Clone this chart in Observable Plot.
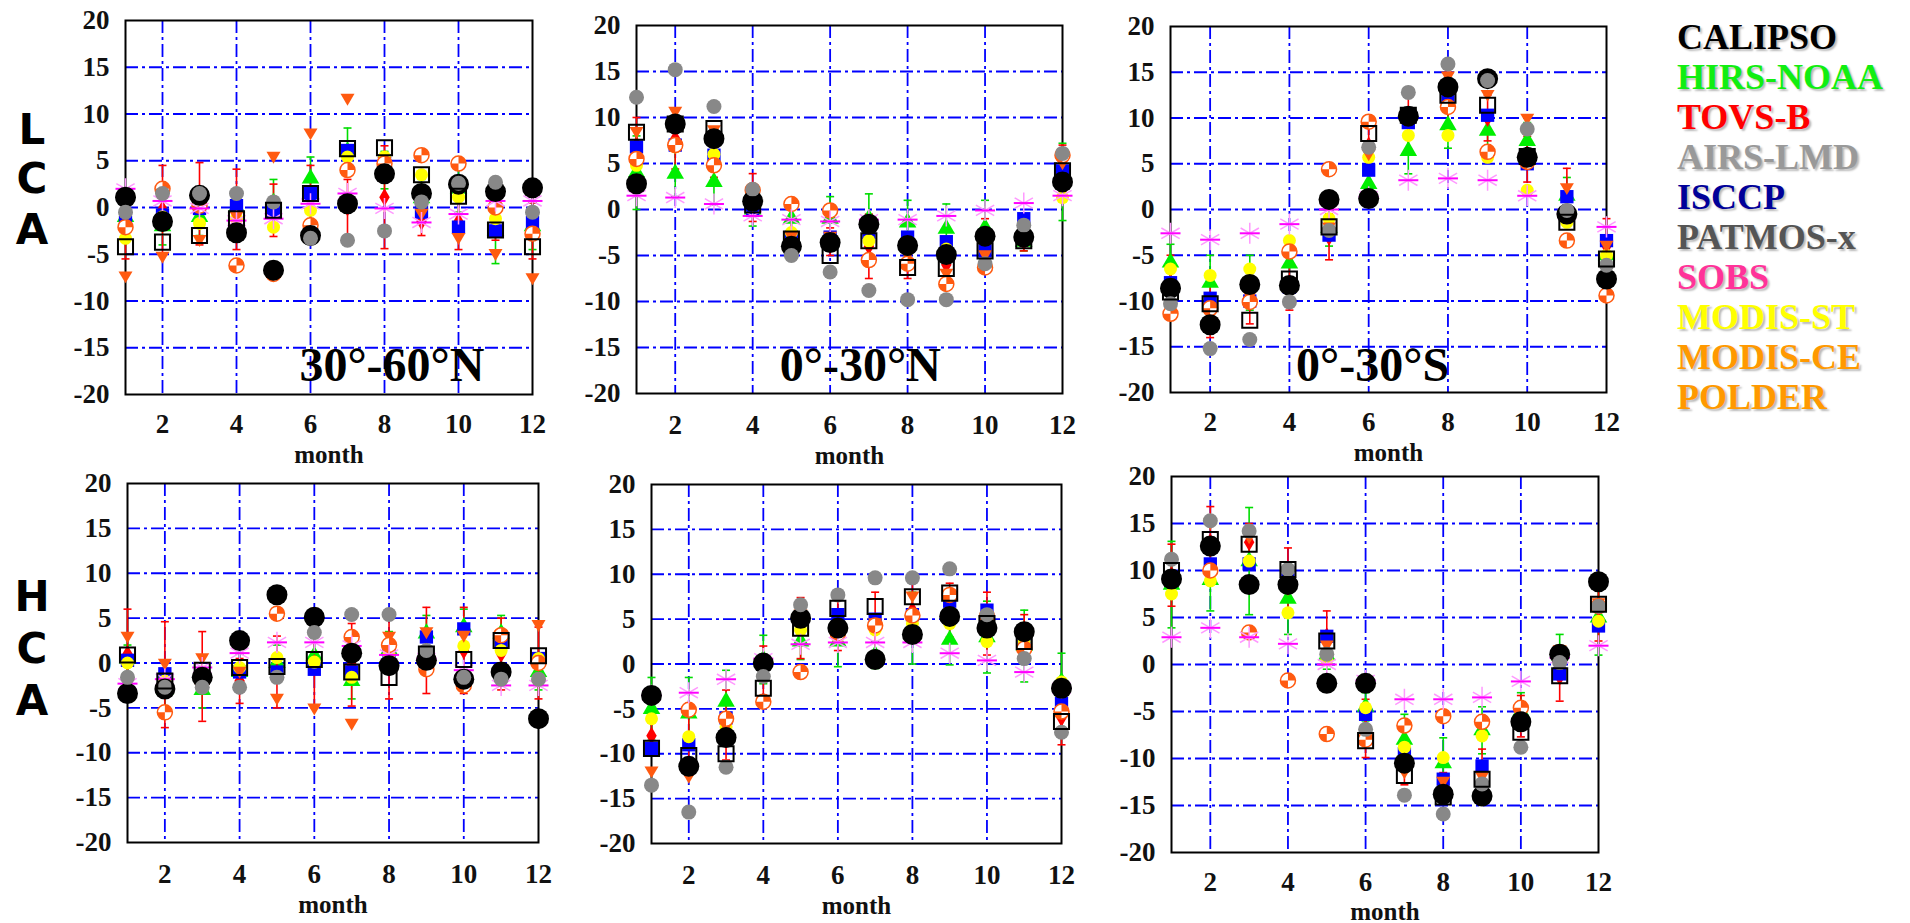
<!DOCTYPE html>
<html><head><meta charset="utf-8">
<script src="https://cdn.jsdelivr.net/npm/d3@7"></script>
<script src="https://cdn.jsdelivr.net/npm/@observablehq/plot@0.6"></script>
<style>
body{margin:0;background:#fff;}
#root{position:relative;width:1910px;height:923px;overflow:hidden;background:#fff;}
.panel{position:absolute;}
.panel svg{overflow:visible;}
.rowlab{position:absolute;left:10px;width:44px;text-align:center;font-family:"DejaVu Sans",sans-serif;font-weight:bold;font-size:42px;line-height:49px;height:49px;color:#000;}
.legend{position:absolute;left:1677px;top:17px;font-family:"Liberation Serif","Times New Roman",serif;font-weight:bold;font-size:36px;line-height:40px;}
.legend div{white-space:nowrap;text-shadow:2px 2px 2px rgba(0,0,0,0.28);}
</style></head>
<body><div id="root"></div>
<script>
// ---------- categories / labels ----------
const months = [1,2,3,4,5,6,7,8,9,10,11,12];
const seriesNames = ["CALIPSO","HIRS-NOAA","TOVS-B","AIRS-LMD","ISCCP","PATMOS-x","SOBS","MODIS-ST","MODIS-CE","POLDER"];
const seriesColors = ["#000000","#11ee11","#ff0000","#999999","#000099","#555555","#ff3399","#ffff00","#ff9900","#ff9900"];
const panelTitles = ["30°-60°N","0°-30°N","0°-30°S","","",""];
const rowLabelLCA = ["L","C","A"];
const rowLabelHCA = ["H","C","A"];
const xTickValues = [2,4,6,8,10,12];
const yTickValues = [-20,-15,-10,-5,0,5,10,15,20];
const xGridValues = [2,4,6,8,10];
const yGridValues = [-15,-10,-5,0,5,10,15];

// ---------- LCA 30°-60°N ----------
const lca3060N_calipso = [1.1,-1.5,1.3,-2.7,-6.7,-3.0,0.4,3.6,1.5,2.5,1.7,2.1];
const lca3060N_airs    = [-0.5,1.5,1.5,1.5,0.6,-3.3,-3.5,-2.5,0.6,2.6,2.7,-0.5];
const lca3060N_patmos  = [-4.2,-3.7,-3.0,-1.2,-0.3,1.5,6.3,6.4,3.5,1.2,-2.4,-4.2];
const lca3060N_isccp   = [-1.6,-0.8,-0.1,0.2,-0.3,1.5,6.1,5.0,-0.5,-2.1,-2.5,-1.6];
const lca3060N_modisSt = [-3.3,-1.0,-1.7,-1.2,-2.1,-0.3,5.4,5.4,3.5,1.1,-1.2,-2.8];
const lca3060N_modisCe = [-7.4,-5.3,-3.5,-1.0,5.4,7.9,11.6,4.8,-0.7,-3.3,-5.0,-7.6];
const lca3060N_polder  = [-2.1,2.0,0.2,-6.2,-7.1,-1.9,4.0,4.7,5.6,4.7,0.0,-2.8];
const lca3060N_sobs    = [2.0,0.7,-0.1,-1.4,-1.2,0.4,1.5,-0.1,-1.6,-0.7,0.7,0.7];
const lca3060N_hirs    = [-1.0,-2.0,-1.0,0.0,0.5,3.1,6.0,4.0,1.0,2.0,-2.5,-2.0];
const lca3060N_hirsErr = [2,2,2,2,2.5,2.3,2.5,2,2,2.5,3.5,2.5];
const lca3060N_tovs    = [-2.5,-0.2,0.4,-0.2,-0.3,1.5,0.0,1.1,-1.5,-1.5,-0.5,-2.5];
const lca3060N_tovsErr = [3,4.7,4.4,4.3,2.8,3.0,3.0,5.5,1.5,3,3,3];

// ---------- LCA 0°-30°N ----------
const lca030N_calipso = [2.8,9.3,7.7,0.9,-4.0,-3.6,-1.6,-3.9,-4.9,-2.9,-3.0,3.0];
const lca030N_airs    = [12.2,15.2,11.2,2.2,-5.0,-6.8,-8.8,-9.8,-9.8,-5.9,-1.7,6.1];
const lca030N_patmos  = [8.4,9.3,8.8,0.5,-3.2,-5.0,-3.4,-6.3,-6.4,-4.5,-3.4,4.2];
const lca030N_isccp   = [6.8,7.0,5.9,-0.1,-3.0,-3.0,-2.5,-3.0,-3.5,-4.5,-1.0,4.2];
const lca030N_modisSt = [4.8,6.8,6.0,1.0,-2.5,-3.5,-3.4,-4.0,-4.3,-3.0,-3.0,1.3];
const lca030N_modisCe = [8.4,10.6,8.6,1.0,-3.0,-3.0,-2.0,-5.0,-7.0,-5.0,-3.0,5.0];
const lca030N_polder  = [5.5,7.0,4.8,2.1,0.6,-0.1,-5.5,-5.9,-8.1,-6.3,-3.2,5.9];
const lca030N_sobs    = [1.5,1.3,0.6,-0.7,-1.1,-1.3,-1.1,-1.1,-0.7,-0.1,0.7,1.5];
const lca030N_hirs    = [4.0,3.9,3.0,0.0,-1.0,-1.0,-1.0,-1.4,-2.1,-2.0,-3.5,3.0];
const lca030N_hirsErr = [4,2.5,2.5,1.8,2,2.4,2.7,2.4,2.7,3,1,4.2];
const lca030N_tovs    = [7.0,7.7,6.2,1.3,-3.0,-3.5,-4.0,-5.5,-6.0,-3.0,-3.5,4.5];
const lca030N_tovsErr = [3,3.3,2.7,2.6,2,1.5,3.5,2,2,2,1,2.5];

// ---------- LCA 0°-30°S ----------
const lca030S_calipso = [-8.6,-12.6,-8.2,-8.3,1.1,1.2,10.2,13.4,14.3,5.7,-0.5,-7.6];
const lca030S_airs    = [-10.3,-15.2,-14.2,-10.1,-2.3,6.8,12.8,15.9,14.1,8.8,-0.1,-6.1];
const lca030S_patmos  = [-9.0,-10.3,-12.1,-7.6,-1.9,8.3,10.3,12.5,11.4,5.8,-1.4,-5.4];
const lca030S_isccp   = [-8.0,-9.7,-10.0,-8.5,-2.8,4.3,9.5,12.0,10.3,5.0,1.4,-3.4];
const lca030S_modisSt = [-6.5,-7.2,-6.5,-3.4,-1.0,5.7,8.1,8.1,5.7,2.1,-1.4,-5.0];
const lca030S_modisCe = [-9.0,-11.0,-9.5,-8.0,-2.0,6.0,10.5,14.5,12.5,9.9,2.3,-4.0];
const lca030S_polder  = [-11.4,-10.8,-10.1,-4.6,4.4,9.6,10.0,11.2,6.3,5.2,-3.4,-9.4];
const lca030S_sobs    = [-2.6,-3.3,-2.6,-1.6,0.0,1.4,3.2,3.4,3.2,1.5,-0.5,-1.9];
const lca030S_hirs    = [-5.8,-8.0,-8.0,-5.9,-2.0,2.8,6.4,9.2,8.6,7.5,1.5,-5.0];
const lca030S_hirsErr = [2,3,3,2,2,2,2.5,2.5,2,2,2,2];
const lca030S_tovs    = [-8.0,-11.0,-10.0,-8.0,-3.0,7.0,9.5,12.0,10.0,5.5,1.5,-4.0];
const lca030S_tovsErr = [3,3,2.5,3,2.5,3,3,3,2.5,2.5,3,3];

// ---------- HCA 30°-60°N ----------
const hca3060N_calipso = [-3.4,-2.9,-1.6,2.5,7.6,5.1,1.1,-0.3,0.3,-1.8,-1.0,-6.2];
const hca3060N_airs    = [-1.6,-2.7,-2.7,-2.7,-1.6,3.4,5.4,5.4,1.4,-1.6,-1.8,-1.8];
const hca3060N_patmos  = [0.9,-2.0,-0.8,-0.5,-0.4,0.4,-1.0,-1.6,1.0,0.4,2.5,0.8];
const hca3060N_isccp   = [0.3,-1.2,-2.0,-1.0,-1.0,-0.7,-1.0,1.0,2.9,3.8,2.5,0.5];
const hca3060N_modisSt = [0.0,-2.0,-1.0,-0.5,0.6,0.1,-1.6,1.0,0.5,1.9,1.4,0.5];
const hca3060N_modisCe = [2.9,-0.1,0.5,-1.0,-4.0,-5.1,-6.8,2.9,3.4,3.0,3.0,4.2];
const hca3060N_polder  = [-3.4,-5.5,-2.0,2.5,5.5,5.3,2.9,2.0,-0.7,-2.5,3.1,0.0];
const hca3060N_sobs    = [-2.3,-1.8,-0.5,1.1,2.3,2.3,1.9,0.9,0.5,-0.8,-2.5,-2.5];
const hca3060N_hirs    = [0.5,-3.0,-3.0,-1.0,0.0,0.8,-2.0,1.5,3.3,4.0,3.3,-1.0];
const hca3060N_hirsErr = [1.5,2,2,2,2,2,2,2,2,2,2,2];
const hca3060N_tovs    = [1.0,-1.3,-1.5,-2.0,-1.0,0.0,-0.2,1.0,1.4,1.4,1.0,0.0];
const hca3060N_tovsErr = [5,5.9,5,2.5,4,5,4.6,5,4.8,4.8,4,4];

// ---------- HCA 0°-30°N ----------
const hca030N_calipso = [-3.5,-11.4,-8.2,0.1,5.1,4.0,0.5,3.3,5.3,4.0,3.6,-2.7];
const hca030N_airs    = [-13.5,-16.5,-11.5,-1.4,6.6,7.7,9.6,9.6,10.6,5.5,0.6,-7.6];
const hca030N_patmos  = [-9.4,-10.2,-10.0,-2.7,4.0,6.2,6.4,7.5,7.9,4.5,2.5,-6.4];
const hca030N_isccp   = [-9.4,-9.0,-6.0,0.0,5.0,5.5,5.0,5.5,7.0,6.0,3.0,-4.4];
const hca030N_modisSt = [-6.1,-8.1,-7.0,0.5,3.8,3.0,3.8,4.5,4.5,2.5,2.5,-2.0];
const hca030N_modisCe = [-12.0,-12.6,-7.0,0.0,5.5,4.0,4.5,7.5,7.5,5.0,3.0,-5.5];
const hca030N_polder  = [-3.5,-5.1,-6.1,-4.2,-0.9,3.4,4.3,5.4,7.7,5.3,1.7,-5.3];
const hca030N_sobs    = [-3.5,-3.2,-1.7,0.6,2.2,2.4,2.4,2.4,1.2,0.4,-0.9,-2.7];
const hca030N_hirs    = [-5.0,-5.5,-4.2,0.5,2.5,2.5,1.0,4.0,2.7,3.0,2.0,-2.0];
const hca030N_hirsErr = [3.5,4,3.5,2.7,2,2.8,1.5,4,2.8,4,4,3.2];
const hca030N_tovs    = [-8.0,-8.5,-6.8,-1.0,4.0,4.7,4.4,6.0,6.0,4.5,3.0,-6.0];
const hca030N_tovsErr = [2,4,3.9,3,3.4,3.2,3.6,3,3,3.5,2.5,3];

// ---------- HCA 0°-30°S ----------
const hca030S_calipso = [9.1,12.6,8.5,8.5,-2.0,-2.0,-10.5,-13.8,-14.0,-6.1,1.1,8.8];
const hca030S_airs    = [11.2,15.3,14.2,10.1,1.1,-6.9,-13.9,-15.9,-12.7,-8.8,0.2,6.2];
const hca030S_patmos  = [10.0,13.3,12.8,10.1,2.5,-8.1,-11.8,-14.1,-12.2,-7.2,-1.2,6.4];
const hca030S_isccp   = [9.0,10.7,10.7,9.0,3.0,-5.3,-9.5,-12.2,-10.8,-6.0,-1.0,4.1];
const hca030S_modisSt = [7.5,8.9,11.0,5.5,0.5,-4.6,-8.8,-9.9,-7.6,-5.0,1.0,4.6];
const hca030S_modisCe = [9.0,15.0,13.5,8.0,2.0,-7.5,-11.5,-12.5,-12.0,-5.0,1.5,6.5];
const hca030S_polder  = [9.1,10.0,3.4,-1.7,-7.4,-8.0,-6.5,-5.5,-6.1,-4.6,1.3,6.2];
const hca030S_sobs    = [2.9,3.9,2.9,2.2,0.0,-1.7,-3.7,-3.7,-3.5,-1.8,0.7,2.0];
const hca030S_hirs    = [8.5,9.0,11.0,7.0,1.0,-4.5,-8.0,-10.5,-7.0,-5.0,1.0,5.0];
const hca030S_hirsErr = [4.6,3.3,5.7,3.8,1.5,1.5,2.7,2.7,2.5,2,2.2,4];
const hca030S_tovs    = [9.5,13.0,13.0,9.0,3.0,-6.8,-10.8,-13.0,-11.0,-5.5,-1.3,6.0];
const hca030S_tovsErr = [3.3,3.8,2,3.4,2.7,3.1,2,1.5,2,2.2,2.6,3.5];

// ---------- assemble ----------
const panelData = [
  {calipso:lca3060N_calipso, airs:lca3060N_airs, patmos:lca3060N_patmos, isccp:lca3060N_isccp, modisSt:lca3060N_modisSt, modisCe:lca3060N_modisCe, polder:lca3060N_polder, sobs:lca3060N_sobs, hirs:lca3060N_hirs, hirsErr:lca3060N_hirsErr, tovs:lca3060N_tovs, tovsErr:lca3060N_tovsErr},
  {calipso:lca030N_calipso, airs:lca030N_airs, patmos:lca030N_patmos, isccp:lca030N_isccp, modisSt:lca030N_modisSt, modisCe:lca030N_modisCe, polder:lca030N_polder, sobs:lca030N_sobs, hirs:lca030N_hirs, hirsErr:lca030N_hirsErr, tovs:lca030N_tovs, tovsErr:lca030N_tovsErr},
  {calipso:lca030S_calipso, airs:lca030S_airs, patmos:lca030S_patmos, isccp:lca030S_isccp, modisSt:lca030S_modisSt, modisCe:lca030S_modisCe, polder:lca030S_polder, sobs:lca030S_sobs, hirs:lca030S_hirs, hirsErr:lca030S_hirsErr, tovs:lca030S_tovs, tovsErr:lca030S_tovsErr},
  {calipso:hca3060N_calipso, airs:hca3060N_airs, patmos:hca3060N_patmos, isccp:hca3060N_isccp, modisSt:hca3060N_modisSt, modisCe:hca3060N_modisCe, polder:hca3060N_polder, sobs:hca3060N_sobs, hirs:hca3060N_hirs, hirsErr:hca3060N_hirsErr, tovs:hca3060N_tovs, tovsErr:hca3060N_tovsErr},
  {calipso:hca030N_calipso, airs:hca030N_airs, patmos:hca030N_patmos, isccp:hca030N_isccp, modisSt:hca030N_modisSt, modisCe:hca030N_modisCe, polder:hca030N_polder, sobs:hca030N_sobs, hirs:hca030N_hirs, hirsErr:hca030N_hirsErr, tovs:hca030N_tovs, tovsErr:hca030N_tovsErr},
  {calipso:hca030S_calipso, airs:hca030S_airs, patmos:hca030S_patmos, isccp:hca030S_isccp, modisSt:hca030S_modisSt, modisCe:hca030S_modisCe, polder:hca030S_polder, sobs:hca030S_sobs, hirs:hca030S_hirs, hirsErr:hca030S_hirsErr, tovs:hca030S_tovs, tovsErr:hca030S_tovsErr}
];

// layout (frame edges in page pixels) – presentation only
const layout = [
  {L:125, R:532, T:20, B:394, monthDy:68, tickPad:19, titleX:8.2, titleY:-16.9},
  {L:636, R:1062, T:25, B:393, monthDy:70, tickPad:21, titleX:6.78, titleY:-17.0},
  {L:1170, R:1606, T:26, B:392, monthDy:68, tickPad:19, titleX:6.1, titleY:-17.05},
  {L:127, R:538, T:483, B:842, monthDy:70, tickPad:21, titleX:0, titleY:0},
  {L:651, R:1061, T:484, B:843, monthDy:70, tickPad:21, titleX:0, titleY:0},
  {L:1171, R:1598, T:476, B:852, monthDy:67, tickPad:19, titleX:0, titleY:0}
];

// custom symbols
const downTri = {draw(ctx, size){ const r = Math.sqrt(size/Math.PI); ctx.moveTo(-r, -r*0.75); ctx.lineTo(r, -r*0.75); ctx.lineTo(0, r*0.95); ctx.closePath(); }};
const quads = {draw(ctx, size){ const r = Math.sqrt(size/Math.PI);
  ctx.moveTo(0,0); ctx.arc(0,0,r,-Math.PI/2,0); ctx.closePath();
  ctx.moveTo(0,0); ctx.arc(0,0,r,Math.PI/2,Math.PI); ctx.closePath(); }};
const hline = {draw(ctx, size){ const r = Math.sqrt(size/Math.PI); ctx.moveTo(-r,0); ctx.lineTo(r,0); }};

const rows = (vals, errs) => months.map((m,i)=>({m, v: vals[i], e: errs ? errs[i] : 0}));

const root = document.getElementById("root");
const mL = 70, mR = 25, mT = 15, mB = 80;
const gridStyle = {stroke:"#0000ff", strokeWidth:1.8, strokeDasharray:"13,4,3,4"};

function errorMarks(r, color){
  return [
    Plot.ruleX(r, {x:"m", y1:d=>d.v-d.e, y2:d=>d.v+d.e, stroke:color, strokeWidth:1.6}),
    Plot.dot(r, {x:"m", y:d=>d.v+d.e, symbol:hline, r:4, stroke:color, strokeWidth:1.6, fill:"none"}),
    Plot.dot(r, {x:"m", y:d=>d.v-d.e, symbol:hline, r:4, stroke:color, strokeWidth:1.6, fill:"none"})
  ];
}

panelData.forEach((d, i) => {
  const g = layout[i];
  const hirsR = rows(d.hirs, d.hirsErr), tovsR = rows(d.tovs, d.tovsErr);
  const marks = [
    Plot.ruleY(yGridValues, gridStyle),
    Plot.ruleX(xGridValues, gridStyle),
    Plot.frame({stroke:"#000", strokeWidth:2}),
    ...errorMarks(hirsR, "#00dd00"),
    ...errorMarks(tovsR, "#ff0000"),
    Plot.dot(hirsR, {x:"m", y:"v", symbol:"triangle", r:6.5, fill:"#00ee00", stroke:"none"}),
    Plot.dot(tovsR, {x:"m", y:"v", symbol:"diamond", r:5.5, fill:"#ff0000", stroke:"none"}),
    Plot.dot(rows(d.isccp), {x:"m", y:"v", symbol:"square", r:7.5, fill:"#0000ff", stroke:"none"}),
    Plot.dot(rows(d.modisSt), {x:"m", y:"v", symbol:"circle", r:6.5, fill:"#ffff00", stroke:"none"}),
    Plot.dot(rows(d.modisCe), {x:"m", y:"v", symbol:downTri, r:7, fill:"#ff5a10", stroke:"none"}),
    Plot.dot(rows(d.polder), {x:"m", y:"v", symbol:"circle", r:7.5, fill:"#ffffff", stroke:"#ff5a10", strokeWidth:1.5}),
    Plot.dot(rows(d.polder), {x:"m", y:"v", symbol:quads, r:7.5, fill:"#ff5a10", stroke:"none"}),
    Plot.dot(rows(d.sobs), {x:"m", y:"v", symbol:"asterisk", r:10, stroke:"#ff99ff", strokeWidth:1.5}),
    Plot.dot(rows(d.sobs), {x:"m", y:"v", symbol:hline, r:10, stroke:"#ff00ff", strokeWidth:2, fill:"none"}),
    Plot.dot(rows(d.calipso), {x:"m", y:"v", symbol:"circle", r:10.5, fill:"#000000", stroke:"none"}),
    Plot.dot(rows(d.airs), {x:"m", y:"v", symbol:"circle", r:7.5, fill:"#888888", stroke:"none"}),
    Plot.dot(rows(d.patmos), {x:"m", y:"v", symbol:"square", r:8.5, fill:"none", stroke:"#000000", strokeWidth:2}),
    Plot.text(["month"], {frameAnchor:"bottom", dy:g.monthDy, fontSize:25, fontWeight:"bold", lineAnchor:"bottom"})
  ];
  if (panelTitles[i]) {
    marks.push(Plot.text([panelTitles[i]], {x:g.titleX, y:g.titleY, fontSize:48, fontWeight:"bold", textAnchor:"middle", lineAnchor:"middle", fill:"#000"}));
  }
  const plot = Plot.plot({
    width: g.R - g.L + mL + mR,
    height: g.B - g.T + mT + mB,
    marginLeft: mL, marginRight: mR, marginTop: mT, marginBottom: mB,
    x: {domain:[1,12], ticks:xTickValues, tickSize:0, tickPadding:g.tickPad, tickFormat:v=>String(v), label:null},
    y: {domain:[-20,20], ticks:yTickValues, tickSize:0, tickPadding:16, tickFormat:v=>String(v), label:null},
    style: {fontFamily:'"Liberation Serif","Times New Roman",serif', fontSize:"27px", fontWeight:"bold", color:"#111", background:"transparent", overflow:"visible"},
    marks
  });
  const div = document.createElement("div");
  div.className = "panel";
  div.style.left = (g.L - mL) + "px";
  div.style.top = (g.T - mT) + "px";
  div.appendChild(plot);
  root.appendChild(div);
});

// row labels: one element per letter, centres in page pixels
function rowLabel(letters, centres){
  letters.forEach((ch, k) => {
    const el = document.createElement("div");
    el.className = "rowlab";
    el.style.top = (centres[k] - 24.5) + "px";
    el.textContent = ch;
    root.appendChild(el);
  });
}
rowLabel(rowLabelLCA, [129, 178, 229]);
rowLabel(rowLabelHCA, [596, 648, 700]);

// legend
const leg = document.createElement("div");
leg.className = "legend";
seriesNames.forEach((n, i) => {
  const it = document.createElement("div");
  it.textContent = n;
  it.style.color = seriesColors[i];
  leg.appendChild(it);
});
root.appendChild(leg);
</script></body></html>
